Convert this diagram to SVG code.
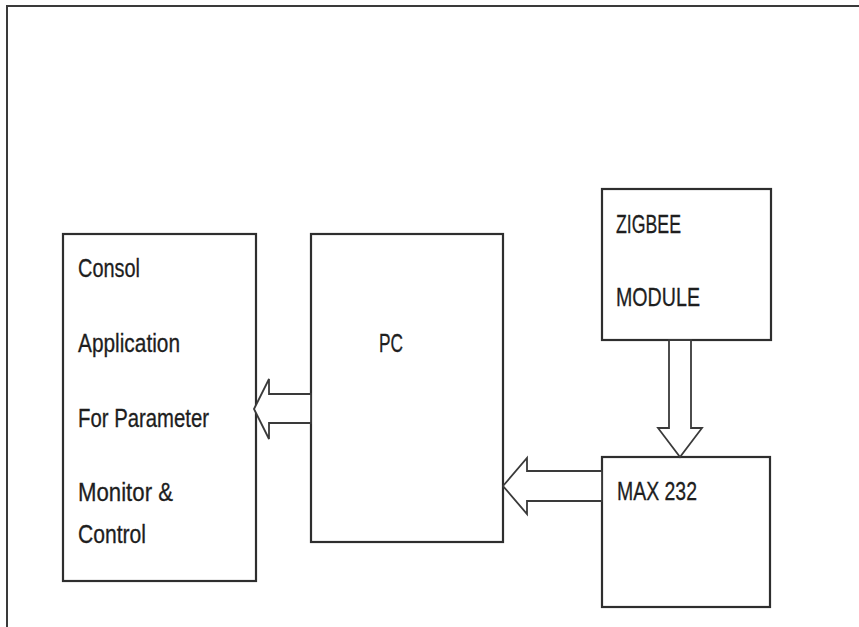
<svg xmlns="http://www.w3.org/2000/svg" width="859" height="627" viewBox="0 0 859 627">
  <style>
    .box { fill: #ffffff; stroke: #2e2e2e; stroke-width: 2.2; }
    .arrow { fill: #ffffff; stroke: #3a3a3a; stroke-width: 1.8; stroke-linejoin: miter; }
    .frame { fill: none; stroke: #3a3a3a; stroke-width: 2; }
    .lbl { font-family: "Liberation Sans", Arial, sans-serif; font-size: 25px; fill: #1e1e1e; stroke: #1e1e1e; stroke-width: 0.3; }
  </style>
  <rect x="0" y="0" width="859" height="627" fill="#ffffff"/>
  <g id="frame">
    <polyline class="frame" points="7,627 7,6 859,6"/>
  </g>
  <g id="console">
    <rect class="box" x="63" y="234" width="193" height="347"/>
    <text class="lbl" x="78" y="277" textLength="62" lengthAdjust="spacingAndGlyphs">Consol</text>
    <text class="lbl" x="78" y="352" textLength="102" lengthAdjust="spacingAndGlyphs">Application</text>
    <text class="lbl" x="78" y="427" textLength="131" lengthAdjust="spacingAndGlyphs">For Parameter</text>
    <text class="lbl" x="78" y="501" textLength="95" lengthAdjust="spacingAndGlyphs">Monitor &amp;</text>
    <text class="lbl" x="78" y="543" textLength="68" lengthAdjust="spacingAndGlyphs">Control</text>
  </g>
  <g id="pc">
    <rect class="box" x="311" y="234" width="192" height="308"/>
    <text class="lbl" x="379" y="352" textLength="24" lengthAdjust="spacingAndGlyphs">PC</text>
  </g>
  <g id="zigbee">
    <rect class="box" x="602" y="189" width="169" height="151"/>
    <text class="lbl" x="616" y="233" textLength="65" lengthAdjust="spacingAndGlyphs">ZIGBEE</text>
    <text class="lbl" x="616" y="306" textLength="84" lengthAdjust="spacingAndGlyphs">MODULE</text>
  </g>
  <g id="max232">
    <rect class="box" x="602" y="457" width="168" height="150"/>
    <text class="lbl" x="617" y="500" textLength="80" lengthAdjust="spacingAndGlyphs">MAX 232</text>
  </g>
  <g id="connectors">
    <polygon class="arrow" points="254,409 269,379 269,394 311,394 311,423 269,423 269,439"/>
    <polygon class="arrow" points="503,486 527,458 527,471 602,471 602,501 527,501 527,514"/>
    <polygon class="arrow" points="669,340 691,340 691,428 702,428 680,457 658,428 669,428"/>
  </g>
</svg>
